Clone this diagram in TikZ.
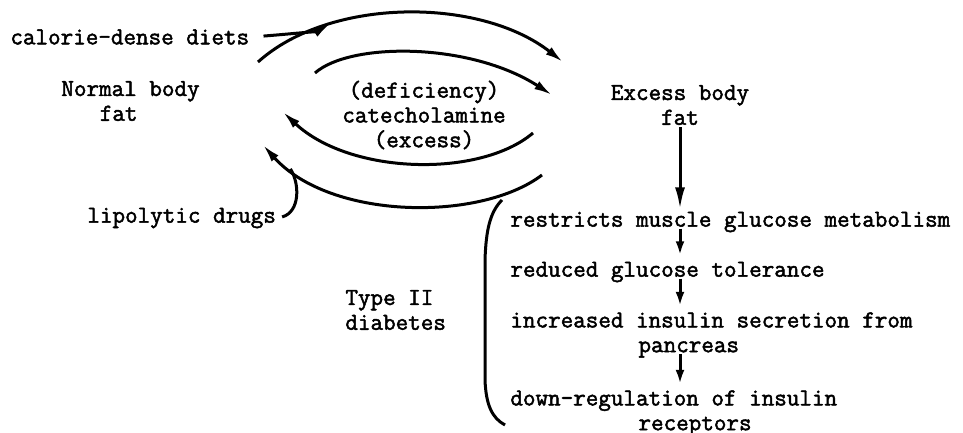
\documentclass[tikz,border=0pt]{standalone}
\usepackage{fontspec}
\setmainfont{Latin Modern Mono}[FakeBold=2]
\usetikzlibrary{arrows.meta, positioning}

\begin{document}
\begin{tikzpicture}[
    x=0.5pt, y=-0.5pt,
    txt/.style={inner sep=1pt, font=\fontsize{12.2}{12.4}\selectfont, align=left},
    arrow/.style={-{Latex[length=9pt, width=4.6pt]}, line width=1.5pt},
    bigarrow/.style={-{Latex[length=11pt, width=5pt]}, line width=1.5pt},
    smallarrow/.style={-{Latex[length=7pt, width=4.4pt]}, line width=1.5pt,
                       shorten <=-3pt, shorten >=2pt},
    curve/.style={line width=1.5pt},
  ]
    \useasboundingbox (0,0) rectangle (963,433);

    % Left side
    \node[txt, anchor=west] (diets) at (8,37) {calorie-dense diets};
    \node[txt, anchor=west] (normal) at (59,101) {Normal body\\\hspace*{1.575em}fat};
    \node[txt, anchor=west] (drugs) at (85,218) {lipolytic drugs};
    \node[txt, anchor=west] (type2) at (343,310) {Type II\\diabetes};

    % Middle
    \node[txt, align=center] (catechol) at (424,115)
      {(deficiency)\\catecholamine\\(excess)};

    % Right side
    \node[txt, align=center] (excess) at (680,105) {Excess body\\fat};
    \node[txt, anchor=west] (restrict) at (508,222)
      {restricts muscle glucose metabolism};
    \node[txt, anchor=west] (reduced) at (508,272) {reduced glucose tolerance};
    \node[txt, anchor=west] (insulin) at (508,335)
      {increased insulin secretion from\\\hspace*{5.25em}pancreas};
    \node[txt, anchor=west] (downreg) at (508,413)
      {down-regulation of insulin\\\hspace*{5.25em}receptors};

    % Arc ends
    \coordinate (nf-a) at (258,62);
    \coordinate (ef-a) at (563,62);
    \coordinate (nf-b) at (315,73);
    \coordinate (ef-b) at (552,95);
    \coordinate (ef-c) at (533,133);
    \coordinate (nf-c) at (283,112);
    \coordinate (ef-d) at (542,175);
    \coordinate (nf-d) at (263,145);

    % Arcs between the two states
    \draw[arrow] (nf-a) .. controls (330,-3) and (480,-3) .. (ef-a)
      coordinate[pos=0.27] (diet-join);
    \draw[arrow] (nf-b) .. controls (350,42) and (470,42) .. (ef-b);
    \draw[arrow] (ef-c) .. controls (480,178) and (350,175) .. (nf-c);
    \draw[arrow] (ef-d) .. controls (480,222) and (330,220) .. (nf-d)
      coordinate[pos=0.88] (lipo-join);

    % Inputs
    \draw[arrow, shorten <=6pt] (diets.east) .. controls (290,34) and (318,31) .. (diet-join);
    \draw[curve, shorten <=2pt] (drugs.east) .. controls (300,212) and (300,184) .. (lipo-join);

    % Type II bracket
    \draw[curve] (502,200) .. controls (490,212) and (486,230) .. (485,260)
      -- (485,380) .. controls (486,405) and (492,418) .. (505,425);

    % Chain on the right
    \draw[bigarrow] (excess.south) -- (excess.south |- restrict.north);
    \draw[smallarrow] (excess.south |- restrict.south) -- (excess.south |- reduced.north);
    \draw[smallarrow] (excess.south |- reduced.south) -- (excess.south |- insulin.north);
    \draw[smallarrow] (excess.south |- insulin.south) -- (excess.south |- downreg.north);
\end{tikzpicture}
\end{document}
